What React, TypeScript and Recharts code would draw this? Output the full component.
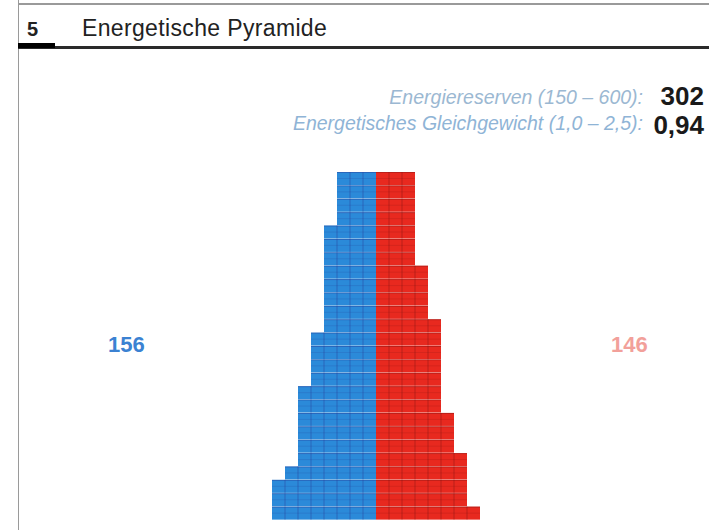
import { Bar, BarChart, XAxis, YAxis } from "recharts"

// one entry per row of the pyramid, top to bottom; value = number of cells
const BLUE = [3, 3, 3, 3, 4, 4, 4, 4, 4, 4, 4, 4, 5, 5, 5, 5, 6, 6, 6, 6, 6, 6, 7, 8, 8, 8]
const RED = [3, 3, 3, 3, 3, 3, 3, 4, 4, 4, 4, 5, 5, 5, 5, 5, 5, 5, 6, 6, 6, 7, 7, 7, 7, 8]
const ROWS = BLUE.map((_, i) => `R${i + 1}`)

const BLUE_TOTAL = "156"
const RED_TOTAL = "146"
const RESERVE_LABEL = "Energiereserven (150 – 600):"
const RESERVE_VALUE = "302"
const BALANCE_LABEL = "Energetisches Gleichgewicht (1,0 – 2,5):"
const BALANCE_VALUE = "0,94"

const data = ROWS.map((row, i) => ({ row, blue: -BLUE[i], red: RED[i] }))

const FONT = "'Liberation Sans', Arial, sans-serif"

function GridBar(props: any) {
  const { x, y, width, height, fill, count, line } = props
  const x0 = Math.min(x, x + width)
  const w = Math.abs(width)
  const n = Math.max(1, count)
  const step = w / n
  const lines = []
  for (let i = 1; i < n; i++) {
    lines.push(
      <line key={i} x1={x0 + i * step} x2={x0 + i * step} y1={y} y2={y + height} stroke={line} strokeWidth={1} />
    )
  }
  return (
    <g>
      <rect x={x0} y={y} width={w} height={height} fill={fill} />
      {lines}
      <line x1={x0} x2={x0 + w} y1={y + 0.5} y2={y + 0.5} stroke={line} strokeWidth={1} />
      <line x1={x0} x2={x0 + w} y1={y + height / 2} y2={y + height / 2} stroke={line} strokeOpacity={0.4} strokeWidth={1} />
    </g>
  )
}

export default function App() {
  return (
    <div style={{ position: "fixed", left: 0, top: 0, width: 709, height: 530, background: "#fff", fontFamily: FONT }}>
      {/* header frame */}
      <div style={{ position: "absolute", left: 18, top: 0, width: 1, height: 530, background: "#9a9a9a" }} />
      <div style={{ position: "absolute", left: 18, top: 3, width: 691, height: 2, background: "#9a9a9a" }} />
      <div style={{ position: "absolute", left: 18, top: 46, width: 691, height: 3, background: "#2a2a2a" }} />
      <div style={{ position: "absolute", left: 18, top: 43, width: 37, height: 5, background: "#000" }} />
      <div style={{ position: "absolute", left: 27, top: 17, fontSize: 20, fontWeight: 700, color: "#222", lineHeight: "24px" }}>5</div>
      <div style={{ position: "absolute", left: 82, top: 15, fontSize: 23, color: "#222", letterSpacing: 0.35, lineHeight: "27px" }}>
        Energetische Pyramide
      </div>

      {/* indicators */}
      <div style={{ position: "absolute", right: 66, top: 85, fontSize: 19.5, fontStyle: "italic", color: "#9bb8d2", lineHeight: "24px" }}>
        {RESERVE_LABEL}
      </div>
      <div style={{ position: "absolute", right: 5, top: 85, fontSize: 26, fontWeight: 700, color: "#1a1a1a", lineHeight: "22px" }}>
        {RESERVE_VALUE}
      </div>
      <div style={{ position: "absolute", right: 66, top: 111, fontSize: 19.5, fontStyle: "italic", color: "#8fb4d6", lineHeight: "24px" }}>
        {BALANCE_LABEL}
      </div>
      <div style={{ position: "absolute", right: 5, top: 114, fontSize: 26, fontWeight: 700, color: "#1a1a1a", lineHeight: "22px" }}>
        {BALANCE_VALUE}
      </div>

      <div style={{ position: "absolute", left: 108, top: 332, fontSize: 22, fontWeight: 700, color: "#3b82d2", lineHeight: "26px" }}>
        {BLUE_TOTAL}
      </div>
      <div style={{ position: "absolute", left: 611, top: 332, fontSize: 22, fontWeight: 700, color: "#f2a09a", lineHeight: "26px" }}>
        {RED_TOTAL}
      </div>

      <div style={{ position: "absolute", left: 0, top: 0 }}>
        <BarChart
          width={709}
          height={530}
          data={data}
          layout="vertical"
          stackOffset="sign"
          barCategoryGap={0}
          margin={{ top: 172, right: 21, bottom: 10, left: 64 }}
        >
          <XAxis type="number" domain={[-24, 24]} hide allowDataOverflow />
          <YAxis type="category" dataKey="row" hide />
          <Bar
            dataKey="blue"
            stackId="p"
            fill="#2b8ad9"
            isAnimationActive={false}
            shape={(p: any) => <GridBar {...p} count={BLUE[p.index]} line="rgba(40,60,150,0.45)" />}
          />
          <Bar
            dataKey="red"
            stackId="p"
            fill="#e8291f"
            isAnimationActive={false}
            shape={(p: any) => <GridBar {...p} count={RED[p.index]} line="rgba(120,20,20,0.4)" />}
          />
        </BarChart>
      </div>
    </div>
  )
}
